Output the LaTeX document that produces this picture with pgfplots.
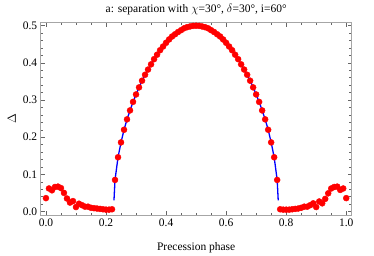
\documentclass[border=0pt]{standalone}
\usepackage{fontspec}
\setmainfont{Liberation Serif}
\usepackage{pgfplots}
\usepackage{pgfplotstable}
\pgfplotsset{compat=1.18}
\pgfplotstableread{
t d
0.00 0.036
0.01 0.062
0.02 0.057
0.03 0.066
0.04 0.067
0.05 0.063
0.06 0.050
0.07 0.035
0.08 0.024
0.09 0.028
0.10 0.012
0.11 0.021
0.12 0.017
0.13 0.013
0.14 0.013
0.15 0.010
0.16 0.009
0.17 0.008
0.18 0.007
0.19 0.006
0.20 0.005
0.21 0.005
0.22 0.006
0.23 0.085
0.24 0.146
0.25 0.186
0.26 0.220
0.27 0.248
0.28 0.272
0.29 0.295
0.30 0.315
0.31 0.334
0.32 0.352
0.33 0.368
0.34 0.382
0.35 0.396
0.36 0.410
0.37 0.422
0.38 0.434
0.39 0.444
0.40 0.454
0.41 0.463
0.42 0.471
0.43 0.477
0.44 0.483
0.45 0.488
0.46 0.493
0.47 0.496
0.48 0.498
0.49 0.4995
0.50 0.500
0.51 0.4995
0.52 0.498
0.53 0.496
0.54 0.493
0.55 0.488
0.56 0.483
0.57 0.477
0.58 0.471
0.59 0.463
0.60 0.454
0.61 0.444
0.62 0.434
0.63 0.422
0.64 0.410
0.65 0.396
0.66 0.382
0.67 0.368
0.68 0.352
0.69 0.334
0.70 0.315
0.71 0.295
0.72 0.272
0.73 0.248
0.74 0.220
0.75 0.186
0.76 0.146
0.77 0.085
0.78 0.006
0.79 0.005
0.80 0.005
0.81 0.005
0.82 0.006
0.83 0.007
0.84 0.008
0.85 0.010
0.86 0.013
0.87 0.013
0.88 0.017
0.89 0.022
0.90 0.012
0.91 0.027
0.92 0.022
0.93 0.034
0.94 0.049
0.95 0.062
0.96 0.066
0.97 0.067
0.98 0.058
0.99 0.062
1.00 0.036
}\sepdots
\pgfplotstableread{
t d
0.2265 0.030
0.23 0.085
0.24 0.146
0.25 0.186
0.26 0.220
0.27 0.248
0.28 0.272
0.29 0.295
0.30 0.315
0.31 0.334
0.32 0.352
0.33 0.368
0.34 0.382
0.35 0.396
0.36 0.410
0.37 0.422
0.38 0.434
0.39 0.444
0.40 0.454
0.41 0.463
0.42 0.471
0.43 0.477
0.44 0.483
0.45 0.488
0.46 0.493
0.47 0.496
0.48 0.498
0.49 0.4995
0.50 0.500
0.51 0.4995
0.52 0.498
0.53 0.496
0.54 0.493
0.55 0.488
0.56 0.483
0.57 0.477
0.58 0.471
0.59 0.463
0.60 0.454
0.61 0.444
0.62 0.434
0.63 0.422
0.64 0.410
0.65 0.396
0.66 0.382
0.67 0.368
0.68 0.352
0.69 0.334
0.70 0.315
0.71 0.295
0.72 0.272
0.73 0.248
0.74 0.220
0.75 0.186
0.76 0.146
0.77 0.085
0.7735 0.030
}\sepcurve
\begin{document}
\begin{tikzpicture}
\useasboundingbox (-40.7bp,-41bp) rectangle (333.3bp,215bp);
\begin{axis}[
  at={(0,0)}, anchor=south west,
  scale only axis, width=311bp, height=192.3bp,
  xmin=-0.0175, xmax=1.0182, ymin=-0.0094, ymax=0.5081,
  xtick={0,0.2,0.4,0.6,0.8,1.0},
  ytick={0,0.1,0.2,0.3,0.4,0.5},
  minor x tick num=3, minor y tick num=4,
  tick align=inside,
  major tick length=4bp, minor tick length=2.3bp,
  every tick/.style={gray!80!black, line width=0.5bp},
  axis line style={gray!70, line width=0.6bp},
  /pgf/number format/assume math mode=true,
  /pgf/number format/fixed, /pgf/number format/fixed zerofill,
  /pgf/number format/precision=1,
  ticklabel style={font=\fontsize{11.5bp}{13bp}\selectfont},
  xticklabel style={yshift=-0.5bp},
  yticklabel style={xshift=0bp},
  title={a: separation with $\chi$=30°, $\delta$=30°, i=60°},
  title style={font=\fontsize{11.5bp}{13bp}\selectfont, yshift=-2bp},
  xlabel={Precession phase},
  xlabel style={font=\fontsize{11.5bp}{13bp}\selectfont, yshift=-9bp},
  ylabel={$\Delta$},
  ylabel style={font=\fontsize{11.5bp}{13bp}\selectfont},
  clip=false,
]
\addplot[blue, line width=1.3bp, no markers] table[x=t, y=d] {\sepcurve};
\addplot[only marks, mark=*, mark size=3bp, red, mark options={draw=red, fill=red}] table[x=t, y=d] {\sepdots};
\end{axis}
\end{tikzpicture}
\end{document}
